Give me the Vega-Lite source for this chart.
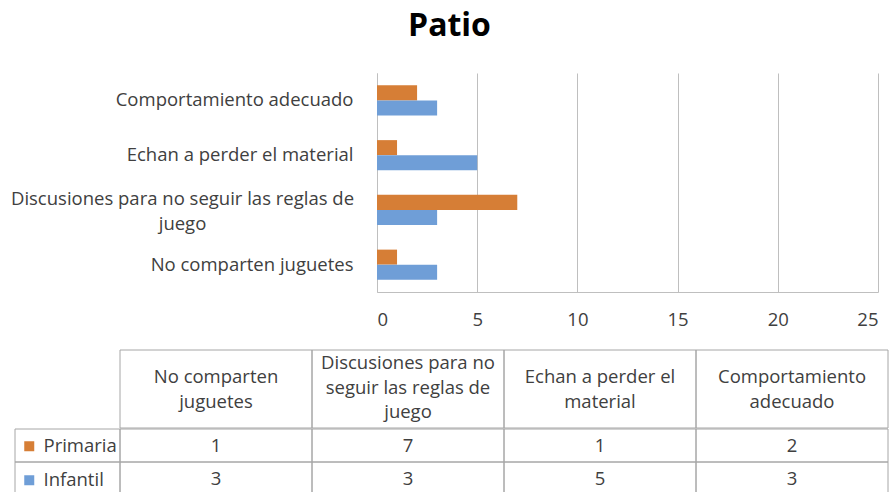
{
  "$schema": "https://vega.github.io/schema/vega-lite/v6.json",
  "padding": {"left": 10, "top": 10, "right": 0, "bottom": 0},
  "background": "white",
  "datasets": {
    "barras": [
      {"categoria": "No comparten juguetes", "serie": "Primaria", "valor": 1},
      {"categoria": "Discusiones para no seguir las reglas de juego", "serie": "Primaria", "valor": 7},
      {"categoria": "Echan a perder el material", "serie": "Primaria", "valor": 1},
      {"categoria": "Comportamiento adecuado", "serie": "Primaria", "valor": 2},
      {"categoria": "No comparten juguetes", "serie": "Infantil", "valor": 3},
      {"categoria": "Discusiones para no seguir las reglas de juego", "serie": "Infantil", "valor": 3},
      {"categoria": "Echan a perder el material", "serie": "Infantil", "valor": 5},
      {"categoria": "Comportamiento adecuado", "serie": "Infantil", "valor": 3}
    ],
    "encabezados": [
      {"categoria": "No comparten juguetes", "texto": "No comparten\njuguetes"},
      {"categoria": "Discusiones para no seguir las reglas de juego", "texto": "Discusiones para no\nseguir las reglas de\njuego"},
      {"categoria": "Echan a perder el material", "texto": "Echan a perder el\nmaterial"},
      {"categoria": "Comportamiento adecuado", "texto": "Comportamiento\nadecuado"}
    ],
    "series": [
      {"serie": "Primaria"},
      {"serie": "Infantil"}
    ]
  },
  "title": {
    "text": "Patio",
    "fontSize": 32,
    "fontWeight": "bold",
    "font": "Open Sans",
    "color": "#000000",
    "anchor": "middle",
    "offset": 30
  },
  "spacing": 20,
  "resolve": {"scale": {"color": "independent"}, "legend": {"color": "independent"}},
  "vconcat": [
    {
      "width": 863,
      "height": 219,
      "data": {"name": "barras"},
      "mark": {"type": "bar"},
      "encoding": {
        "y": {
          "field": "categoria",
          "type": "nominal",
          "sort": ["Comportamiento adecuado", "Echan a perder el material", "Discusiones para no seguir las reglas de juego", "No comparten juguetes"],
          "scale": {"paddingInner": 0.452, "paddingOuter": 0.226},
          "axis": {
            "title": null,
            "offset": -362,
            "ticks": false,
            "domainColor": "#BFBFBF",
            "labelAlign": {"condition": {"test": "datum.value == 'Discusiones para no seguir las reglas de juego'", "value": "center"}, "value": "right"},
            "labelPadding": {"condition": {"test": "datum.value == 'Discusiones para no seguir las reglas de juego'", "value": 195}, "value": 24},
            "labelOffset": {"condition": {"test": "datum.value == 'Discusiones para no seguir las reglas de juego'", "value": -11}, "value": 0},
            "labelFontSize": 18.5,
            "labelFont": "Open Sans",
            "labelColor": "#404040",
            "labelLimit": 500,
            "labelLineHeight": 25,
            "labelExpr": "datum.label == 'Discusiones para no seguir las reglas de juego' ? ['Discusiones para no seguir las reglas de', 'juego'] : datum.label"
          }
        },
        "yOffset": {"field": "serie", "type": "nominal", "sort": ["Primaria", "Infantil"], "scale": {"paddingInner": 0, "paddingOuter": 0}},
        "x": {
          "field": "valor",
          "type": "quantitative",
          "scale": {"domain": [0, 25], "range": [362, 863], "nice": false},
          "axis": {
            "title": null,
            "values": [0, 5, 10, 15, 20, 25],
            "ticks": false,
            "grid": true,
            "gridColor": "#BFBFBF",
            "domainColor": "#BFBFBF",
            "labelPadding": 18.5,
            "labelFontSize": 18.5,
            "labelFont": "Open Sans",
            "labelColor": "#404040"
          }
        },
        "color": {
          "field": "serie",
          "type": "nominal",
          "scale": {"domain": ["Primaria", "Infantil"], "range": ["#D67E36", "#6F9ED7"]},
          "legend": null
        }
      }
    },
    {
      "spacing": -2,
      "resolve": {"scale": {"color": "independent"}, "legend": {"color": "independent"}},
      "vconcat": [
        {
          "spacing": 0,
          "bounds": "flush",
          "hconcat": [
            {
              "width": 105,
              "height": 78,
              "data": {"values": [{}]},
              "mark": {"type": "text", "text": ""},
              "encoding": {}
            },
            {
              "width": 768,
              "height": 78,
              "data": {"name": "encabezados"},
              "encoding": {
                "x": {
                  "field": "categoria",
                  "type": "nominal",
                  "sort": ["No comparten juguetes", "Discusiones para no seguir las reglas de juego", "Echan a perder el material", "Comportamiento adecuado"],
                  "scale": {"paddingInner": 0, "paddingOuter": 0},
                  "axis": null
                }
              },
              "layer": [
                {"mark": {"type": "rect", "fill": "transparent", "stroke": "#A6A6A6", "strokeWidth": 1}},
                {
                  "transform": [{"filter": "length(split(datum.texto, '\\n')) == 2"}],
                  "mark": {"type": "text", "lineBreak": "\n", "lineHeight": 24.5, "dy": -12, "fontSize": 18.5, "font": "Open Sans", "color": "#404040"},
                  "encoding": {"text": {"field": "texto", "type": "nominal"}}
                },
                {
                  "transform": [{"filter": "length(split(datum.texto, '\\n')) == 3"}],
                  "mark": {"type": "text", "lineBreak": "\n", "lineHeight": 24.5, "dy": -26, "fontSize": 18.5, "font": "Open Sans", "color": "#404040"},
                  "encoding": {"text": {"field": "texto", "type": "nominal"}}
                }
              ]
            }
          ]
        },
        {
          "spacing": 0,
          "bounds": "flush",
          "resolve": {"scale": {"color": "independent"}, "legend": {"color": "independent"}},
          "hconcat": [
            {
              "width": 105,
              "height": 66,
              "data": {"name": "series"},
              "encoding": {
                "y": {"field": "serie", "type": "nominal", "sort": ["Primaria", "Infantil"], "scale": {"paddingInner": 0, "paddingOuter": 0}, "axis": null}
              },
              "layer": [
                {"mark": {"type": "rect", "fill": "transparent", "stroke": "#A6A6A6", "strokeWidth": 1}},
                {
                  "mark": {"type": "point", "shape": "square", "filled": true, "opacity": 0},
                  "encoding": {
                    "color": {
                      "field": "serie",
                      "type": "nominal",
                      "scale": {"domain": ["Primaria", "Infantil"], "range": ["#D67E36", "#6F9ED7"]},
                      "legend": {
                        "orient": "top-left",
                        "title": null,
                        "offset": 8,
                        "padding": 0,
                        "symbolType": "square",
                        "symbolSize": 100,
                        "symbolOpacity": 1,
                        "symbolStrokeWidth": 0,
                        "symbolOffset": -3,
                        "labelFontSize": 18.5,
                        "labelFont": "Open Sans",
                        "labelColor": "#404040",
                        "labelOffset": 5,
                        "rowPadding": 15
                      }
                    }
                  }
                }
              ]
            },
            {
              "width": 768,
              "height": 66,
              "data": {"name": "barras"},
              "encoding": {
                "x": {
                  "field": "categoria",
                  "type": "nominal",
                  "sort": ["No comparten juguetes", "Discusiones para no seguir las reglas de juego", "Echan a perder el material", "Comportamiento adecuado"],
                  "scale": {"paddingInner": 0, "paddingOuter": 0},
                  "axis": null
                },
                "y": {"field": "serie", "type": "nominal", "sort": ["Primaria", "Infantil"], "scale": {"paddingInner": 0, "paddingOuter": 0}, "axis": null}
              },
              "layer": [
                {"mark": {"type": "rect", "fill": "transparent", "stroke": "#A6A6A6", "strokeWidth": 1}},
                {
                  "mark": {"type": "text", "fontSize": 18.5, "font": "Open Sans", "color": "#404040"},
                  "encoding": {"text": {"field": "valor", "type": "quantitative"}}
                }
              ]
            }
          ]
        }
      ]
    }
  ],
  "config": {
    "view": {"stroke": null},
    "font": "Open Sans"
  }
}
